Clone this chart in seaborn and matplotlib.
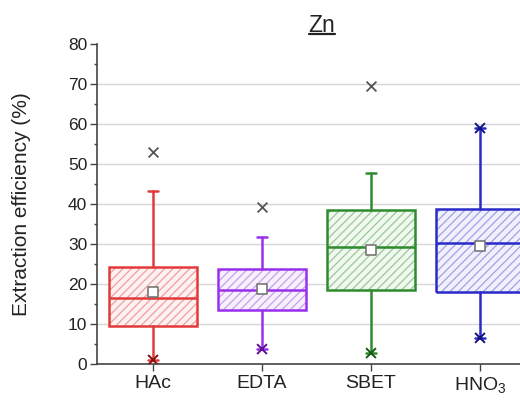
import numpy as np
import pandas as pd
import matplotlib
matplotlib.use("Agg")
import matplotlib.pyplot as plt
from matplotlib.patches import PathPatch
from matplotlib.lines import Line2D
from matplotlib.ticker import FixedLocator, MultipleLocator
import seaborn as sns

# ---- data ----
categories = ["HAc", "EDTA", "SBET", "HNO$_\\mathregular{3}$"]
q1 = [9.6, 13.6, 18.5, 18.1]
median = [16.5, 18.6, 29.2, 30.4]
q3 = [24.2, 23.8, 38.6, 38.7]
mean = [18.1, 18.7, 28.6, 29.6]
whisker_low = [1.1, 3.8, 2.8, 6.6]
whisker_high = [43.3, 31.9, 47.8, 59.0]
outlier_cat = [0, 1, 2]
outlier_val = [53.1, 39.4, 69.6]
extreme_cat = [0, 1, 2, 3, 3]
extreme_val = [1.1, 3.8, 2.8, 6.6, 59.0]

box_colors = ["#e23a3a", "#9a30ee", "#2e8c2e", "#2a2ac8"]
dark_colors = ["#8a1010", "#5a1090", "#145a14", "#101080"]
face_colors = ["#fdf1f1", "#f7f0fd", "#f0f8f0", "#f0f0fc"]
hatch_colors = ["#eea0a0", "#c8a0ee", "#98c898", "#a0a0e4"]

sns.set_theme(style="white")
plt.rcParams["font.family"] = ["Liberation Sans", "DejaVu Sans"]
plt.rcParams["mathtext.fontset"] = "custom"
plt.rcParams["mathtext.rm"] = "Liberation Sans"
plt.rcParams["hatch.linewidth"] = 0.9

fig = plt.figure(figsize=(5.2, 4.03), dpi=100)
ax = fig.add_axes([97 / 520, 1 - 364.3 / 403, 423 / 520, (364.3 - 44) / 403])

positions = np.arange(len(categories))
stats = []
for i in range(len(categories)):
    stats.append(dict(med=median[i], q1=q1[i], q3=q3[i],
                      whislo=whisker_low[i], whishi=whisker_high[i],
                      fliers=[], label=categories[i]))

bp = ax.bxp(stats, positions=positions, widths=0.8, patch_artist=True,
            showfliers=False, showmeans=False, capwidths=0.09, zorder=2)

for i, box in enumerate(bp["boxes"]):
    box.set_facecolor(face_colors[i])
    box.set_edgecolor(hatch_colors[i])
    box.set_hatch("////")
    box.set_linewidth(0)
    outline = PathPatch(box.get_path(), fill=False, edgecolor=box_colors[i],
                        linewidth=1.8, zorder=3, transform=box.get_transform())
    ax.add_patch(outline)
    bp["medians"][i].set(color=box_colors[i], linewidth=1.8, zorder=3)
for j, w in enumerate(bp["whiskers"]):
    w.set(color=box_colors[j // 2], linewidth=1.8, zorder=2)
for j, c in enumerate(bp["caps"]):
    c.set(color=box_colors[j // 2], linewidth=1.8, zorder=2)

# markers via seaborn
mean_df = pd.DataFrame({"pos": positions, "mean": mean})
sns.scatterplot(data=mean_df, x="pos", y="mean", marker="s", s=55,
                facecolor="white", edgecolor="#777777", linewidth=1.2,
                ax=ax, zorder=5, legend=False)

out_df = pd.DataFrame({"pos": outlier_cat, "val": outlier_val})
sns.scatterplot(data=out_df, x="pos", y="val", marker="x", s=50,
                color="#555555", linewidth=1.3, ax=ax, zorder=5, legend=False)

ext_df = pd.DataFrame({"pos": extreme_cat, "val": extreme_val,
                       "cat": [categories[k] for k in extreme_cat]})
sns.scatterplot(data=ext_df, x="pos", y="val", hue="cat", marker="x", s=50,
                palette={categories[k]: dark_colors[k] for k in range(4)},
                linewidth=1.4, ax=ax, zorder=5, legend=False)

# axes styling
ax.set_xlim(-0.514, 3.367)
ax.set_ylim(0, 80)
ax.xaxis.set_major_locator(FixedLocator(positions))
ax.set_xticklabels(categories)
ax.yaxis.set_major_locator(FixedLocator(np.arange(0, 81, 10)))
ax.yaxis.set_minor_locator(MultipleLocator(5))
ax.set_xlabel("")
ax.set_ylabel("Extraction efficiency (%)", fontsize=15, color="#222222")
ax.yaxis.set_label_coords(-0.155, 0.5)

ax.tick_params(axis="y", which="major", direction="out", length=5, width=1,
               color="#444444", labelsize=12.5, labelcolor="#222222", pad=2,
               left=True)
ax.tick_params(axis="y", which="minor", direction="out", length=2.5, width=1,
               color="#444444", left=True)
ax.tick_params(axis="x", which="major", direction="out", length=5, width=1,
               color="#444444", labelsize=14, labelcolor="#222222", pad=3,
               bottom=True)

ax.yaxis.grid(True, color="#d6d6d6", linewidth=1.0, zorder=0)
ax.set_axisbelow(True)
gl = ax.yaxis.get_gridlines()
gl[-1].set_visible(False)
gl[0].set_visible(False)

for s in ["top", "right"]:
    ax.spines[s].set_visible(False)
for s in ["left", "bottom"]:
    ax.spines[s].set_color("#444444")
    ax.spines[s].set_linewidth(1.2)

# title with underline
t = fig.text(322 / 520, 1 - 31.5 / 403, "Zn", fontsize=16.5, ha="center",
             va="baseline", color="#222222")
fig.canvas.draw()
bb = t.get_window_extent(fig.canvas.get_renderer())
x0, x1 = bb.x0 / fig.bbox.width, bb.x1 / fig.bbox.width
yl = 1 - 34 / 403
fig.add_artist(Line2D([x0, x1], [yl, yl], transform=fig.transFigure,
                      color="#222222", linewidth=1.6))

fig.savefig("out.png", dpi=100)
